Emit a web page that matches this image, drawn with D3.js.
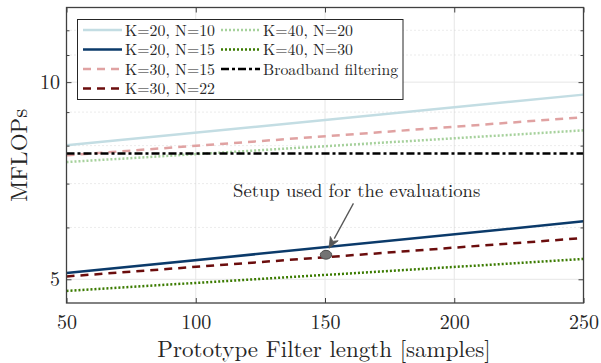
<!DOCTYPE html>
<html><head><meta charset="utf-8">
<script src="https://cdn.jsdelivr.net/npm/d3@7"></script>
<style>body{margin:0;background:#fff}svg{display:block}text{font-family:"Latin Modern Roman","Liberation Serif",serif;fill:#262626}</style>
</head><body><svg id="c" width="601" height="363"></svg>
<script>
const filterLengths = [50, 250];
const seriesNames = ["K=20, N=10","K=20, N=15","K=30, N=15","K=30, N=22","K=40, N=20","K=40, N=30","Broadband filtering"];
const k20n10 = [8.01, 9.57];
const k20n15 = [5.11, 6.13];
const k30n15 = [7.73, 8.84];
const k30n22 = [5.05, 5.78];
const k40n20 = [7.55, 8.44];
const k40n30 = [4.80, 5.37];
const broadband = [7.78, 7.78];
const xTicks = [50, 100, 150, 200, 250];
const yMajorTicks = [5, 10];
const yMinorTicks = [6, 7, 8, 9, 11, 12];
const setupPoint = [150, 5.45];
const arrowStart = [161, 6.53];
const annotationText = "Setup used for the evaluations";

const FONT = '"Latin Modern Roman","Liberation Serif",serif';
const svg = d3.select("#c");
const L = 66.5, R = 583.5, T = 7.5, B = 303;
const x = d3.scaleLinear().domain([50, 250]).range([L, R]);
const y = d3.scaleLog().domain([4.6, 13]).range([B, T]);

const styles = [
  {d:k20n10, c:"#c3dde3", w:2.5, dash:null},
  {d:k20n15, c:"#0b3a6a", w:2.5, dash:null},
  {d:k30n15, c:"#e0a2a2", w:2.5, dash:"8,6"},
  {d:k30n22, c:"#6b0d0d", w:2.5, dash:"8,6"},
  {d:k40n20, c:"#a6d19c", w:2.5, dash:"2,2"},
  {d:k40n30, c:"#3b7b00", w:2.5, dash:"2,2"},
  {d:broadband, c:"#000000", w:2.5, dash:"8,3,3,3"}
];

// grid
const g = svg.append("g");
g.selectAll(".vg").data(xTicks.slice(1,-1)).join("line")
  .attr("x1", d=>x(d)).attr("x2", d=>x(d)).attr("y1", T).attr("y2", B)
  .attr("stroke", "#e6e6e6").attr("stroke-width", 1);
g.selectAll(".hg").data(yMajorTicks).join("line")
  .attr("x1", L).attr("x2", R).attr("y1", d=>y(d)).attr("y2", d=>y(d))
  .attr("stroke", "#e6e6e6").attr("stroke-width", 1);
g.selectAll(".mg").data(yMinorTicks).join("line")
  .attr("x1", L).attr("x2", R).attr("y1", d=>y(d)).attr("y2", d=>y(d))
  .attr("stroke", "#cfcfcf").attr("stroke-width", 0.8).attr("stroke-dasharray", "1,3");

// series
const line = d3.line().x((d,i)=>x(filterLengths[i])).y(d=>y(d));
svg.append("g").selectAll("path").data(styles).join("path")
  .attr("d", s=>line(s.d)).attr("fill","none")
  .attr("stroke", s=>s.c).attr("stroke-width", s=>s.w)
  .attr("stroke-dasharray", s=>s.dash);

// axes box with inward ticks
const axc = "#404040";
const ax = svg.append("g");
ax.append("g").attr("transform",`translate(0,${B})`).call(d3.axisBottom(x).tickValues(xTicks).tickSize(-5).tickPadding(12).tickFormat(d3.format("d")));
ax.append("g").attr("transform",`translate(0,${T})`).call(d3.axisTop(x).tickValues(xTicks).tickSize(-5).tickFormat(""));
ax.append("g").attr("transform",`translate(${L},0)`).call(d3.axisLeft(y).tickValues(yMajorTicks).tickSize(-5).tickPadding(6.5).tickFormat(d3.format("d")));
ax.append("g").attr("transform",`translate(${L},0)`).call(d3.axisLeft(y).tickValues(yMinorTicks).tickSize(-3).tickFormat(""));
ax.append("g").attr("transform",`translate(${R},0)`).call(d3.axisRight(y).tickValues(yMajorTicks).tickSize(-5).tickFormat(""));
ax.append("g").attr("transform",`translate(${R},0)`).call(d3.axisRight(y).tickValues(yMinorTicks).tickSize(-3).tickFormat(""));
ax.selectAll(".domain").remove();
ax.selectAll("line").attr("stroke", axc).attr("stroke-width", 1);
ax.selectAll("text").attr("font-family",FONT).attr("font-size", 20).attr("fill","#262626");
svg.append("rect").attr("x",L).attr("y",T).attr("width",R-L).attr("height",B-T)
  .attr("fill","none").attr("stroke",axc).attr("stroke-width",1.3);

// labels
svg.append("text").attr("x",(L+R)/2 - 1).attr("y",357).attr("text-anchor","middle")
  .attr("font-size",23).text("Prototype Filter length [samples]");
svg.append("text").attr("transform",`translate(27,${(T+B)/2}) rotate(-90)`).attr("text-anchor","middle")
  .attr("font-size",23).text("MFLOPs");

// annotation
const px = x(setupPoint[0]), py = y(setupPoint[1]);
const ax0 = x(arrowStart[0]), ay0 = y(arrowStart[1]);
svg.append("ellipse").attr("cx",px + 1).attr("cy",py).attr("rx",5.7).attr("ry",4.4)
  .attr("fill","#737373").attr("stroke","#505050").attr("stroke-width",1);
// arrow shaft + head computed from direction
const tipX = px + 4, tipY = py - 6.5;
const ang = Math.atan2(tipY - ay0, tipX - ax0);
const hl = 11, hw = 4.5;
const bx = tipX - hl*Math.cos(ang), by = tipY - hl*Math.sin(ang);
svg.append("line").attr("x1",ax0).attr("y1",ay0).attr("x2",bx).attr("y2",by)
  .attr("stroke","#555").attr("stroke-width",1.3);
svg.append("path").attr("d", d3.line()([
  [tipX, tipY],
  [bx - hw*Math.sin(ang), by + hw*Math.cos(ang)],
  [tipX - (hl-3)*Math.cos(ang), tipY - (hl-3)*Math.sin(ang)],
  [bx + hw*Math.sin(ang), by - hw*Math.cos(ang)]
]) + "Z").attr("fill","#555").attr("stroke","#555").attr("stroke-width",0.8);
svg.append("text").attr("x",233).attr("y",197).attr("font-size",18.7).text(annotationText);

// legend
const lg = svg.append("g");
lg.append("rect").attr("x",77.5).attr("y",19.5).attr("width",325.5).attr("height",80)
  .attr("fill","#fff").attr("stroke","#262626").attr("stroke-width",1);
const legPos = [[0,0],[0,1],[0,2],[0,3],[1,0],[1,1],[1,2]];
seriesNames.forEach((name,si)=>{
  const [col,row] = legPos[si];
  const lx = col ? 221 : 83, ty = 30 + row*19.5;
  const s = styles[si];
  lg.append("line").attr("x1",lx).attr("x2",lx+39).attr("y1",ty).attr("y2",ty)
    .attr("stroke",s.c).attr("stroke-width",s.w).attr("stroke-dasharray",s.dash);
  lg.append("text").attr("x",lx+42).attr("y",ty+5.5).attr("font-size",15.8).text(name);
});
</script></body></html>
